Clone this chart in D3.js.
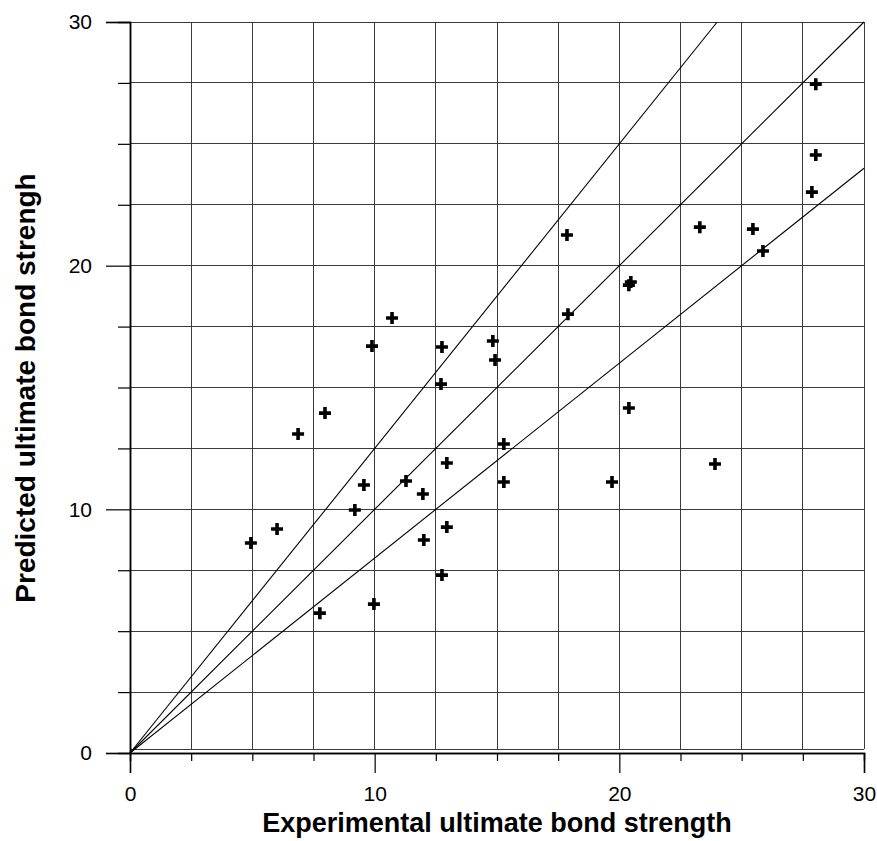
<!DOCTYPE html>
<html>
<head>
<meta charset="utf-8">
<script src="https://cdn.jsdelivr.net/npm/d3@7"></script>
<style>
  body { margin: 0; background: #fff; }
  text { font-family: "Liberation Sans", Arial, sans-serif; }
</style>
</head>
<body>
<svg id="chart"></svg>
<script>
// Data
const expStrength = [4.94, 6.01, 6.87, 7.97, 7.76, 9.19, 9.56, 9.97, 9.89, 10.71, 11.28, 11.97,
    12.01, 12.75, 12.75, 12.71, 12.95, 12.95, 14.83, 14.92, 15.28, 15.28, 17.86, 17.90,
    19.70, 20.39, 20.47, 20.39, 23.29, 25.46, 25.87, 23.91, 28.03, 28.03, 27.87];
const predStrength = [8.62, 9.19, 13.09, 13.95, 5.74, 9.97, 11.0, 6.11, 16.70, 17.85, 11.16, 10.63,
    8.74, 7.30, 16.66, 15.14, 11.90, 9.27, 16.91, 16.13, 12.68, 11.12, 21.26, 18.01,
    11.12, 19.20, 19.33, 14.16, 21.58, 21.50, 20.60, 11.86, 27.45, 24.54, 23.02];
const refSlopes = [1.25, 1.0, 0.8];
const majorTicks = [0, 10, 20, 30];
const minorTicks = [2.5, 5, 7.5, 12.5, 15, 17.5, 22.5, 25, 27.5];
const gridValues = [2.5, 5, 7.5, 10, 12.5, 15, 17.5, 20, 22.5, 25, 27.5, 30];

const points = expStrength.map((x, i) => ({ x: x, y: predStrength[i] }));

const dimensions = {
    width: 877,
    height: 841,
    margin: { top: 22, right: 13, bottom: 88, left: 130 }
};

const svg = d3.select("#chart")
    .attr("width", dimensions.width)
    .attr("height", dimensions.height);

const xScale = d3.scaleLinear()
    .domain([0, 30])
    .range([dimensions.margin.left, dimensions.width - dimensions.margin.right]);

const yScale = d3.scaleLinear()
    .domain([0, 30])
    .range([dimensions.height - dimensions.margin.bottom, dimensions.margin.top]);

// Grid
const grid = svg.append("g").attr("stroke", "#3a3a3a").attr("stroke-width", 1)
    .attr("shape-rendering", "crispEdges");

grid.selectAll(".vgrid")
    .data(gridValues)
    .enter().append("line")
    .attr("x1", d => xScale(d)).attr("x2", d => xScale(d))
    .attr("y1", yScale(0) - 4).attr("y2", yScale(30));

grid.selectAll(".hgrid")
    .data(gridValues)
    .enter().append("line")
    .attr("x1", xScale(0)).attr("x2", xScale(30))
    .attr("y1", d => yScale(d)).attr("y2", d => yScale(d));

// the bottom grid line sits just above the axis
grid.append("line")
    .attr("x1", xScale(0)).attr("x2", xScale(30))
    .attr("y1", yScale(0) - 4).attr("y2", yScale(0) - 4);

// Reference lines y = k x
svg.append("g")
    .selectAll("line")
    .data(refSlopes)
    .enter().append("line")
    .attr("x1", xScale(0)).attr("y1", yScale(0))
    .attr("x2", k => xScale(Math.min(30, 30 / k)))
    .attr("y2", k => yScale(k * Math.min(30, 30 / k)))
    .attr("stroke", "#000")
    .attr("stroke-width", 1.1);

// Axes
const axisX = svg.append("g")
    .attr("transform", `translate(0, ${yScale(0)})`);
axisX.append("g")
    .call(d3.axisBottom(xScale).tickValues(minorTicks).tickSize(8).tickFormat(""));
axisX.append("g")
    .call(d3.axisBottom(xScale).tickValues(majorTicks).tickSize(20).tickPadding(13));

const axisY = svg.append("g")
    .attr("transform", `translate(${xScale(0)}, 0)`);
axisY.append("g")
    .call(d3.axisLeft(yScale).tickValues(minorTicks).tickSize(12).tickFormat(""));
axisY.append("g")
    .call(d3.axisLeft(yScale).tickValues(majorTicks).tickSize(24).tickPadding(14));

svg.selectAll(".domain").attr("stroke", "#000").attr("stroke-width", 1.5);
svg.selectAll(".tick line").attr("stroke", "#000").attr("stroke-width", 1.2);
svg.selectAll(".tick text")
    .attr("fill", "#000")
    .style("font-size", "21px")
    .style("font-family", "'Liberation Sans', Arial, sans-serif");

// Axis titles
svg.append("text")
    .attr("x", 497)
    .attr("y", 832)
    .attr("text-anchor", "middle")
    .style("font-size", "27px")
    .style("font-weight", "bold")
    .text("Experimental ultimate bond strength");

svg.append("text")
    .attr("transform", `translate(35, 388) rotate(-90)`)
    .attr("text-anchor", "middle")
    .style("font-size", "28px")
    .style("font-weight", "bold")
    .text("Predicted ultimate bond strengh");

// Plus markers
svg.append("g")
    .selectAll("path")
    .data(points)
    .enter().append("path")
    .attr("d", d => {
        const cx = xScale(d.x), cy = yScale(d.y), r = 6;
        return `M${cx - r},${cy}H${cx + r}M${cx},${cy - r}V${cy + r}`;
    })
    .attr("stroke", "#000")
    .attr("stroke-width", 3.6)
    .attr("fill", "none");
</script>
</body>
</html>
